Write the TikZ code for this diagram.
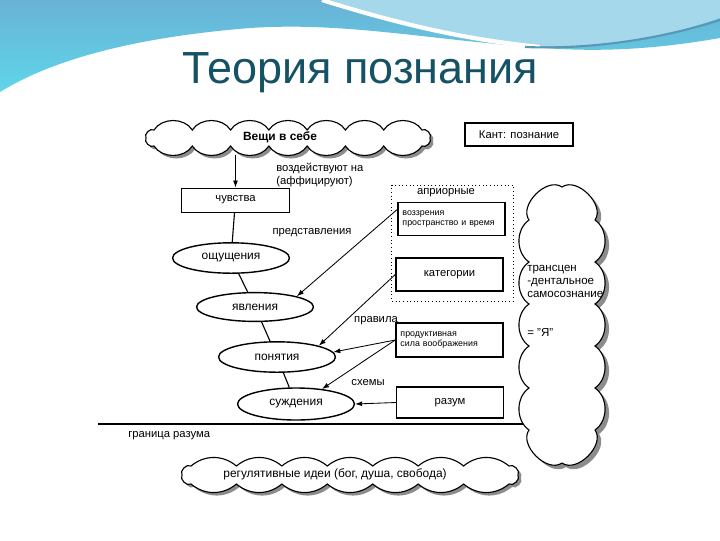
\documentclass[tikz,border=0pt]{standalone}
\usepackage{fontspec}
\setmainfont{Liberation Sans}
\usepackage{tikz}
\usetikzlibrary{shapes.geometric, arrows.meta}
\definecolor{titleteal}{RGB}{22, 82, 102}
\definecolor{waveblue}{RGB}{105, 178, 214}
\definecolor{wavecyan}{RGB}{95, 214, 234}
\definecolor{wavelight}{RGB}{165, 216, 234}
% cloud outline: half width, half height, bumps on top, bumps below, bend
\newcommand{\puffpath}[5]{(-#1,0) to[bend left=80] (-#1+#2,-#2)
  \foreach \k in {1,...,#3} { to[bend left=#5] ({-#1+#2+\k*2*(#1-#2)/#3},-#2) }
  to[bend left=80] (#1,0) to[bend left=80] (#1-#2,#2)
  \foreach \k in {1,...,#4} { to[bend left=#5] ({#1-#2-\k*2*(#1-#2)/#4},#2) }
  to[bend left=80] cycle}

\begin{document}
\begin{tikzpicture}[
    x=0.025cm, y=-0.025cm,
    box/.style={rectangle, draw, line width=0.9pt, minimum width=2.68cm, minimum height=0.82cm, inner sep=2pt, font=\fontsize{8}{9}\selectfont},
    smallbox/.style={box, align=left, text width=2.45cm, font=\fontsize{6.3}{7.6}\selectfont},
    oval/.style={ellipse, draw, line width=1pt, minimum width=2.92cm, minimum height=0.76cm, inner sep=0pt, font=\fontsize{8.5}{10}\selectfont},
    cloudline/.style={draw, line width=0.8pt, fill=white},
    cloudshadow/.style={fill=black!45},
    arrow/.style={-{Latex[length=5pt,width=3.5pt]}, line width=0.6pt},
    link/.style={line width=0.8pt},
    lbl/.style={inner sep=0pt, font=\fontsize{8}{9.5}\selectfont}
]
\useasboundingbox (0,0) rectangle (720,540);

% Wave
\shade[top color=waveblue, bottom color=wavecyan] (0,0) -- (720,0) -- (720,38) .. controls (640,52) and (580,52) .. (520,46) .. controls (420,38) and (340,22) .. (250,28) .. controls (150,36) and (60,55) .. (0,92) -- cycle;
\fill[wavelight] (330,0) .. controls (420,28) and (480,42) .. (545,46) .. controls (620,48) and (680,32) .. (720,18) -- (720,0) -- cycle;
\draw[white, line width=3pt] (322,0) .. controls (412,28) and (472,40) .. (540,47);
\draw[waveblue!85!black, line width=1.5pt] (525,47) .. controls (600,50) and (670,36) .. (720,20);

% Title
\node[anchor=base, text=titleteal, font=\fontsize{32}{36}\selectfont] (title) at (360,83) {Теория познания};

% Border of reason
\coordinate (bl) at (98,424);
\coordinate (br) at (540,424);
\draw[line width=1.6pt] (bl) -- (br);
\node[lbl, anchor=west] (limit) at (128,436) {граница разума};

% Clouds
\fill[cloudshadow, shift={(291,141)}] \puffpath{142}{8}{7}{7}{58};
\draw[cloudline, shift={(288,138)}] \puffpath{142}{8}{7}{7}{58};
\node[minimum width=7.4cm, minimum height=0.9cm, font=\bfseries\fontsize{8.5}{10}\selectfont] (things) at (280,137) {Вещи в себе};

\fill[cloudshadow, shift={(566,329)}, rotate=90] \puffpath{138}{33}{5}{5}{55};
\draw[cloudline, shift={(562,325)}, rotate=90] \puffpath{138}{33}{5}{5}{55};
\node[lbl, font=\fontsize{8.2}{9.3}\selectfont, align=left, anchor=north west] (self) at (527,265) {трансцен\\-дентальное\\самосознание\\[2.2em]= "Я"};

\fill[cloudshadow, shift={(353,478)}] \puffpath{168}{9}{7}{7}{40};
\draw[cloudline, shift={(350,475)}] \puffpath{168}{9}{7}{7}{40};
\node[font=\fontsize{8.5}{10}\selectfont] (ideas) at (335,474) {регулятивные идеи (бог, душа, свобода)};

% Left column
\node[box, line width=1.3pt, minimum width=2.68cm, minimum height=0.58cm] (kant) at (519,134.5) {Кант: познание};
\node[box, line width=0.6pt, minimum height=0.6cm] (feel) at (235.5,200) {чувства};
\node[oval] (sens) at (231,258) {ощущения};
\node[oval, minimum height=0.72cm] (phen) at (255,307) {явления};
\node[oval] (conc) at (277,357) {понятия};
\node[oval, minimum height=0.8cm] (judg) at (296,404) {суждения};

% A priori forms
\node[draw, dotted, line width=0.6pt, minimum width=3.03cm, minimum height=2.9cm] (apriori) at (452.5,243) {};
\node[lbl] (aprioritext) at (446,193) {априорные};
\node[smallbox] (intuit) at (451.5,219) {воззрения\\пространство и время};
\node[box] (cat) at (449.5,274.5) {категории};
\node[smallbox, minimum height=0.85cm] (imag) at (449.5,340) {продуктивная\\сила воображения};
\node[box, minimum height=0.78cm] (reason) at (450,402.5) {разум};

% Labels
\node[lbl, align=left, anchor=north west] (affect) at (276,163) {воздействуют на\\(аффицируют)};
\node[lbl] (repr) at (312,233) {представления};
\node[lbl] (rules) at (376,321) {правила};
\node[lbl] (schem) at (368,383) {схемы};

% Arrows
\draw[arrow] (feel.north |- things.south) -- (feel.north);
\draw[link] (feel) -- (sens);
\draw[link] (sens) -- (phen);
\draw[link] (phen) -- (conc);
\draw[link] (conc) -- (judg);
\draw[arrow] (intuit.170) -- (phen.north east);
\draw[arrow] (cat.west) -- (conc.north east);
\draw[arrow] (imag.west) -- (conc.5);
\draw[arrow] (imag.west) -- (judg.30);
\draw[arrow] (reason.west) -- (judg.east);
\end{tikzpicture}
\end{document}
